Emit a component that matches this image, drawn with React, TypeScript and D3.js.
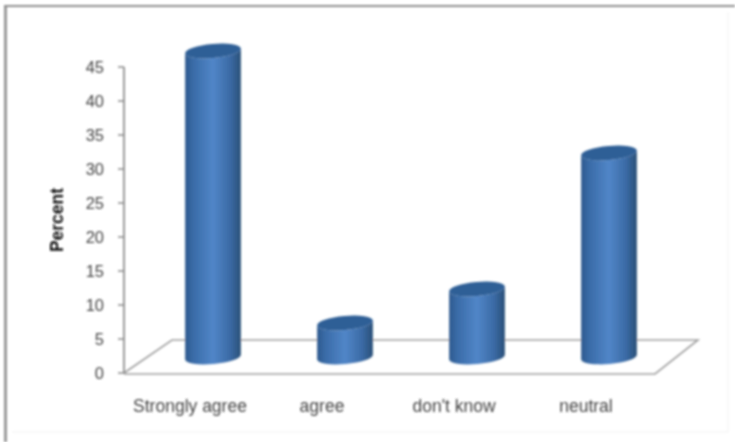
import React from "react";
import * as d3 from "d3";

const categories = ["Strongly agree", "agree", "don't know", "neutral"];
const values = [45, 5, 10, 30];
const yTicks = [0, 5, 10, 15, 20, 25, 30, 35, 40, 45];
const labelCentres = [190, 322, 454, 586];

const W = 735, H = 442;
const y = d3.scaleLinear().domain([0, 45]).range([373, 67]);
const x = d3.scalePoint<string>().domain(categories).range([213, 609]);
const RX = 28, RY = 7, ROT = -5;
const LIFT = 16;
const font = "'Liberation Sans', Arial, sans-serif";

function cylinder(cx: number, base: number, top: number) {
  const dx = RX * Math.cos((ROT * Math.PI) / 180);
  const dy = RX * Math.sin((ROT * Math.PI) / 180);
  const side = `M${cx - dx},${top - dy} L${cx - dx},${base - dy} A${RX},${RY} ${ROT} 0 0 ${cx + dx},${base + dy} L${cx + dx},${top + dy} A${RX},${RY} ${ROT} 0 1 ${cx - dx},${top - dy} Z`;
  const cap = `M${cx - dx},${top - dy} A${RX},${RY} ${ROT} 1 1 ${cx + dx},${top + dy} A${RX},${RY} ${ROT} 1 1 ${cx - dx},${top - dy} Z`;
  return { side, cap };
}

export default function App() {
  const floor = d3.line()([[124, 373], [172, 340], [698, 340], [655, 374], [124, 374]]) ?? "";
  return (
    <svg width={W} height={H} viewBox={`0 0 ${W} ${H}`} style={{ position: "fixed", left: 0, top: 0, display: "block", background: "#fff" }}>
      <defs>
        <linearGradient id="cyl" x1="0" x2="1" y1="0" y2="0">
          <stop offset="0" stopColor="#2f5a8e" />
          <stop offset="0.15" stopColor="#3a6ca8" />
          <stop offset="0.5" stopColor="#5186c8" />
          <stop offset="0.8" stopColor="#3b6ba6" />
          <stop offset="1" stopColor="#2a5078" />
        </linearGradient>
        <filter id="soft" filterUnits="userSpaceOnUse" x={0} y={0} width={W} height={H}>
          <feGaussianBlur stdDeviation={0.8} />
        </filter>
      </defs>
      <g filter="url(#soft)">
        <line x1={5.5} x2={5.5} y1={5} y2={H} stroke="#9a9a9a" strokeWidth={3} />
        <line x1={4} x2={W} y1={6} y2={6} stroke="#8f8f8f" strokeWidth={2} />
        <line x1={728} x2={728} y1={12} y2={432} stroke="#f1f1f1" strokeWidth={1} />
        <line x1={12} x2={728} y1={432} y2={432} stroke="#f1f1f1" strokeWidth={1} />
        <path d={floor} fill="none" stroke="#a0a0a0" strokeWidth={1.6} />
        <line x1={124} x2={124} y1={y(45)} y2={y(0)} stroke="#808080" strokeWidth={1.6} />
        {yTicks.map((t) => (
          <g key={t}>
            <line x1={118} x2={124} y1={y(t)} y2={y(t)} stroke="#808080" strokeWidth={1.4} />
            <text x={104} y={y(t) + 6} textAnchor="end" fontFamily={font} fontSize={16.5} fill="#444">{t}</text>
          </g>
        ))}
        <text transform="translate(63,220) rotate(-90)" textAnchor="middle" fontFamily={font} fontSize={17.5} fontWeight={700} fill="#111">Percent</text>
        {categories.map((c, i) => {
          const cx = x(c) as number;
          const base = y(0) - LIFT;
          const { side, cap } = cylinder(cx, base, base - (y(0) - y(values[i])));
          return (
            <g key={c}>
              <path d={side} fill="url(#cyl)" />
              <path d={cap} fill="#2f5f96" />
            </g>
          );
        })}
        {categories.map((c, i) => (
          <text key={c} x={labelCentres[i]} y={412} textAnchor="middle" fontFamily={font} fontSize={17.5} fill="#444">{c}</text>
        ))}
      </g>
    </svg>
  );
}
